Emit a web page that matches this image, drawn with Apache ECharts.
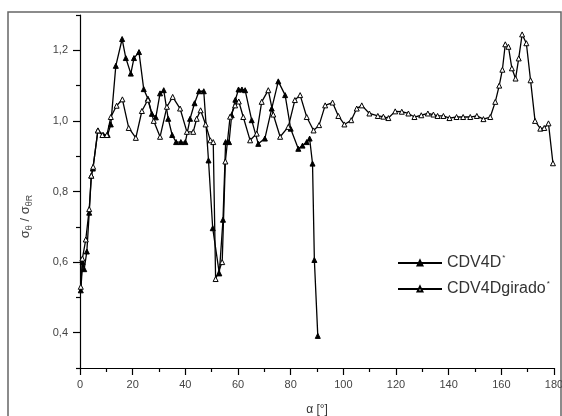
<!DOCTYPE html>
<html>
<head>
<meta charset="utf-8">
<script src="https://cdn.jsdelivr.net/npm/echarts@6/dist/echarts.min.js"></script>
<style>
  html, body { margin: 0; padding: 0; background: #fff; }
  #chart { width: 562px; height: 416px; }
</style>
</head>
<body>
<div id="chart"></div>
<script>
// [alpha, sigma ratio]
const cdv4d = [
  [0.3, 0.52], [1.0, 0.60], [1.6, 0.58], [2.6, 0.63], [3.5, 0.74], [4.3, 0.845], [4.9, 0.865],
  [6.8, 0.973], [8.9, 0.96], [10.5, 0.96], [11.7, 0.99], [13.6, 1.156], [16.0, 1.232],
  [17.4, 1.178], [19.3, 1.134], [20.5, 1.178], [22.4, 1.195], [24.2, 1.09], [25.8, 1.063],
  [27.3, 1.02], [28.8, 1.01], [30.4, 1.078], [31.8, 1.087], [33.5, 1.006], [35.0, 0.96],
  [36.5, 0.94], [38.3, 0.94], [40.0, 0.94], [41.8, 1.006], [43.5, 1.05], [45.2, 1.084],
  [47.0, 1.084], [48.8, 0.888], [50.4, 0.696], [52.9, 0.568], [54.3, 0.72], [55.3, 0.94],
  [56.6, 0.94], [57.6, 1.016], [59.0, 1.06], [60.2, 1.089], [61.5, 1.089], [62.7, 1.087],
  [65.2, 1.002], [67.7, 0.935], [70.2, 0.95], [72.8, 1.035], [75.3, 1.112], [77.9, 1.073],
  [80.0, 0.978], [82.9, 0.921], [84.5, 0.93], [86.1, 0.94], [87.2, 0.95], [88.3, 0.879],
  [89.0, 0.606], [90.3, 0.391]
];
const cdv4dGirado = [
  [0.3, 0.53], [0.9, 0.61], [2.2, 0.664], [3.5, 0.75], [4.3, 0.845], [5.0, 0.87],
  [6.8, 0.973], [8.5, 0.96], [10.2, 0.96], [11.7, 1.011], [13.9, 1.043], [16.1, 1.061],
  [18.5, 0.98], [21.2, 0.952], [23.5, 1.028], [25.8, 1.06], [28.0, 1.0], [30.4, 0.955],
  [33.0, 1.04], [35.2, 1.068], [38.0, 1.035], [40.6, 0.969], [43.0, 0.969], [44.3, 1.006],
  [45.8, 1.03], [47.7, 0.99], [49.5, 0.945], [50.6, 0.94], [51.5, 0.552], [54.0, 0.60],
  [55.2, 0.885], [57.0, 1.012], [58.9, 1.044], [60.3, 1.055], [62.0, 1.011], [64.6, 0.945],
  [67.1, 0.964], [69.0, 1.054], [71.5, 1.087], [73.4, 1.018], [76.0, 0.955], [79.1, 0.983],
  [81.6, 1.059], [83.6, 1.073], [86.1, 1.011], [88.7, 0.973], [90.8, 0.988], [93.1, 1.044],
  [95.9, 1.052], [98.1, 1.014], [100.4, 0.99], [103.0, 1.002], [105.1, 1.035], [107.0, 1.044],
  [109.9, 1.021], [113.1, 1.014], [115.2, 1.012], [117.1, 1.008], [119.7, 1.027], [122.2, 1.026],
  [124.7, 1.021], [127.0, 1.011], [129.6, 1.016], [132.1, 1.021], [134.2, 1.018], [135.8, 1.014],
  [138.0, 1.014], [140.3, 1.008], [143.0, 1.011], [145.5, 1.011], [148.2, 1.011], [150.7, 1.014],
  [153.2, 1.005], [155.8, 1.011], [157.7, 1.054], [159.2, 1.10], [160.4, 1.145], [161.5, 1.217],
  [162.7, 1.21], [164.0, 1.149], [165.4, 1.12], [166.6, 1.177], [167.9, 1.245], [169.5, 1.22],
  [171.1, 1.115], [172.8, 1.0], [174.8, 0.978], [176.3, 0.98], [177.9, 0.993], [179.6, 0.88]
];
const yMajorTicks = [0.4, 0.6, 0.8, 1.0, 1.2];
const yMinorTicks = [0.3, 0.5, 0.7, 0.9, 1.1, 1.3];

const font = 'Liberation Sans, Arial, sans-serif';
const chart = echarts.init(document.getElementById('chart'));

chart.setOption({
  animation: false,
  backgroundColor: '#fff',
  graphic: [{
    type: 'rect',
    shape: { x: 8, y: 12, width: 553, height: 410 },
    style: { fill: 'none', stroke: '#666', lineWidth: 1.5 },
    silent: true
  }],
  grid: { left: 80, right: 8, top: 15, bottom: 48, outerBoundsMode: 'none' },
  legend: {
    orient: 'vertical',
    left: 397,
    top: 254,
    padding: 0,
    itemWidth: 44,
    itemHeight: 6,
    itemGap: 9,
    textStyle: {
      fontFamily: font, fontSize: 16, color: '#333',
      rich: { s: { fontFamily: font, fontSize: 8, color: '#333', padding: [0, 0, 10, 1] } }
    },
    formatter: name => name + '{s|*}',
    data: ['CDV4D', 'CDV4Dgirado']
  },
  xAxis: {
    type: 'value',
    min: 0, max: 180, interval: 20,
    name: 'α [°]',
    nameLocation: 'middle',
    nameGap: 36,
    nameTextStyle: { fontFamily: font, fontSize: 12, color: '#333' },
    axisLine: { lineStyle: { color: '#000', width: 1.2 } },
    axisTick: { length: 7, lineStyle: { color: '#000', width: 1.2 } },
    minorTick: { show: true, splitNumber: 2, length: 4, lineStyle: { color: '#000', width: 1.2 } },
    axisLabel: { margin: 11, fontFamily: font, fontSize: 11, color: '#444' },
    splitLine: { show: false }
  },
  yAxis: [{
    type: 'value',
    min: 0.3, max: 1.3,
    position: 'left',
    name: '{a|σ}{s|θ}{a| / σ}{s|θR}',
    nameLocation: 'middle',
    nameRotate: 90,
    nameGap: 46,
    nameTextStyle: {
      padding: [0, 50, 0, 0],
      rich: {
        a: { fontFamily: font, fontSize: 13, color: '#444' },
        s: { fontFamily: font, fontSize: 9, color: '#444', padding: [8, 0, 0, 0] }
      }
    },
    axisLine: { show: true, lineStyle: { color: '#000', width: 1.2 } },
    axisTick: { show: true, length: 7, customValues: yMajorTicks, lineStyle: { color: '#000', width: 1.2 } },
    axisLabel: {
      margin: 12, fontFamily: font, fontSize: 11, color: '#444',
      customValues: yMajorTicks,
      formatter: v => v.toFixed(1).replace('.', ',')
    },
    splitLine: { show: false }
  }, {
    type: 'value',
    min: 0.3, max: 1.3,
    position: 'left',
    axisLine: { show: false },
    axisTick: { show: true, length: 4, customValues: yMinorTicks, lineStyle: { color: '#000', width: 1.2 } },
    axisLabel: { show: false },
    splitLine: { show: false }
  }],
  series: [{
    name: 'CDV4D',
    type: 'line',
    data: cdv4d,
    symbol: 'triangle',
    symbolSize: 5,
    lineStyle: { color: '#000', width: 1.3 },
    itemStyle: { color: '#000', borderColor: '#000', borderWidth: 1 }
  }, {
    name: 'CDV4Dgirado',
    type: 'line',
    data: cdv4dGirado,
    symbol: 'triangle',
    symbolSize: 5,
    lineStyle: { color: '#000', width: 1.3 },
    itemStyle: { color: '#fff', borderColor: '#000', borderWidth: 1 }
  }]
});
</script>
</body>
</html>
